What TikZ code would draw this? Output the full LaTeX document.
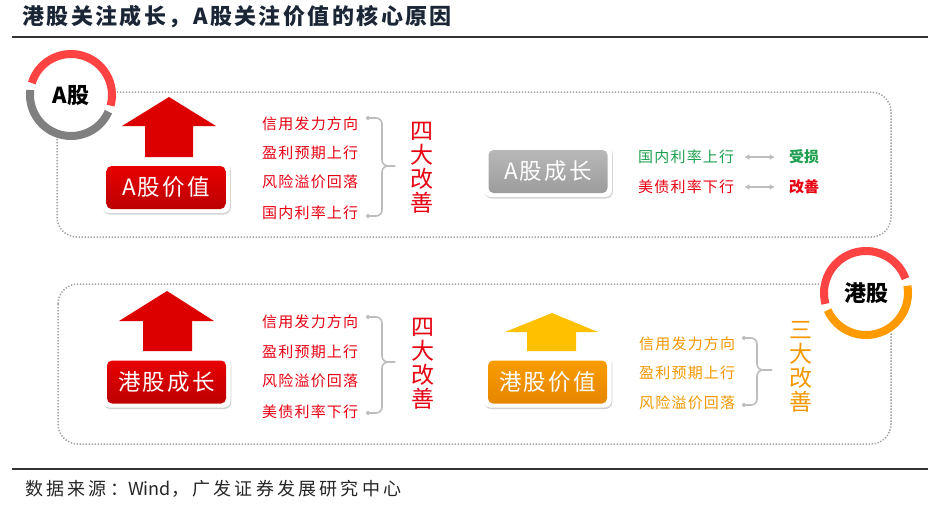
\documentclass[tikz,border=0pt]{standalone}
\usepackage{fontspec}
\setmainfont{Noto Sans CJK SC}
\usetikzlibrary{arrows.meta,shadows,shapes.geometric}
\definecolor{titlecol}{HTML}{1A2535}
\definecolor{rulecol}{HTML}{333333}
\definecolor{panelgray}{HTML}{A0A0A0}
\definecolor{bracegray}{HTML}{BDBDBD}
\definecolor{ringred}{HTML}{FF4242}
\definecolor{ringgray}{HTML}{808080}
\definecolor{ringorange}{HTML}{FF9A00}
\definecolor{arrowred}{HTML}{DD0000}
\definecolor{arrowyellow}{HTML}{FFC000}
\definecolor{txtred}{HTML}{E60012}
\definecolor{txtgreen}{HTML}{1FA050}
\definecolor{txtorange}{HTML}{F39800}
\definecolor{boxredtop}{HTML}{E80000}
\definecolor{boxredbot}{HTML}{BC0000}
\definecolor{boxgraytop}{HTML}{B8B8B8}
\definecolor{boxgraybot}{HTML}{9C9C9C}
\definecolor{boxorangetop}{HTML}{F89C00}
\definecolor{boxorangebot}{HTML}{E68600}
\begin{document}
\begin{tikzpicture}[x=1pt,y=-1pt,
  panel/.style={draw=panelgray, line width=1.5pt, dash pattern=on 1.3pt off 1.7pt, rounded corners=20pt},
  ring/.style={line width=8pt},
  frame/.style={fill=white, rounded corners=7pt, minimum width=128pt, minimum height=51pt, inner sep=0pt,
    drop shadow={opacity=0.35, shadow xshift=0.8pt, shadow yshift=-1.5pt}},
  label/.style={rounded corners=5pt, minimum width=119pt, minimum height=43pt, inner sep=0pt, text=white,
    font=\fontsize{22.5}{22.5}\selectfont\addfontfeature{LetterSpace=10}},
  listitem/.style={anchor=west, inner sep=0pt, font=\fontsize{15}{15}\selectfont\addfontfeature{LetterSpace=8}},
  vtext/.style={inner sep=0pt, align=center, font=\fontsize{23}{24}\selectfont},
  brace/.style={draw=bracegray, line width=1.6pt, rounded corners=6pt},
  braceend/.style={fill=bracegray, inner sep=0pt, minimum size=5pt, diamond},
  dbl/.style={draw=bracegray, line width=1.8pt, {Latex[length=5pt,width=6pt]}-{Latex[length=5pt,width=6pt]}},
]
\useasboundingbox (0,0) rectangle (928,504);
\fill[white] (0,0) rectangle (928,504);

% title and rules
\node[anchor=west, inner sep=0pt, text=titlecol,
  font=\fontsize{22}{22}\selectfont\bfseries\addfontfeature{LetterSpace=11}] (title) at (22,17)
  {港股关注成长，A股关注价值的核心原因};
\draw[line width=2pt, draw=rulecol] (12,37) -- (928,37);
\draw[line width=2pt, draw=rulecol] (12,469) -- (928,469);
\node[anchor=west, inner sep=0pt, text=black!85,
  font=\fontsize{18}{18}\selectfont] (source) at (25,489)
  {{\addfontfeature{LetterSpace=18}数据来源：}Wind{\addfontfeature{LetterSpace=18}，广发证券发展研究中心}};

% panels
\draw[panel] (57,92) rectangle (891,237);
\draw[panel] (58,284) rectangle (891,444);

% A-share ring
\fill[white] (71,95) circle (46);
\draw[ring, ringred] (71,95) ++(15:41) arc[start angle=15, end angle=-163, radius=41];
\draw[ring, ringgray] (71,95) ++(-173:41) arc[start angle=-173, end angle=-336, radius=41];
\node[inner sep=0pt, font=\fontsize{22}{22}\selectfont\bfseries] (aring) at (71,96) {A股};

% HK ring
\fill[white] (866,293) circle (47);
\draw[ring, ringred] (866,293) ++(-20:42) arc[start angle=-20, end angle=-195, radius=42];
\draw[ring, ringorange] (866,293) ++(-204:42) arc[start angle=-204, end angle=-370, radius=42];
\node[inner sep=0pt, font=\fontsize{22}{22}\selectfont\bfseries] (hring) at (866,293) {港股};

% up arrows
\fill[arrowred] (169,97) -- (216,126) -- (193,126) -- (193,157) -- (145,157) -- (145,126) -- (122,126) -- cycle;
\fill[arrowred] (167,291) -- (214,321) -- (192,321) -- (192,351) -- (143,351) -- (143,321) -- (119,321) -- cycle;
\fill[arrowyellow] (552,313) -- (598,332) -- (576,332) -- (576,351) -- (527,351) -- (527,332) -- (505,332) -- cycle;

% boxes
\node[frame] (avalf) at (166,187.5) {};
\node[label, top color=boxredtop, bottom color=boxredbot] (aval) at (166,187.5) {A股价值};
\node[frame] (hgrof) at (166.5,382) {};
\node[label, top color=boxredtop, bottom color=boxredbot] (hgro) at (166.5,382) {港股成长};
\node[frame] (agrof) at (548,171.5) {};
\node[label, top color=boxgraytop, bottom color=boxgraybot] (agro) at (548,171.5) {A股成长};
\node[frame] (hvalf) at (547.5,382) {};
\node[label, top color=boxorangetop, bottom color=boxorangebot] (hval) at (547.5,382) {港股价值};

% upper list
\node[listitem, text=txtred] (u1) at (262,124) {信用发力方向};
\node[listitem, text=txtred] (u2) at (262,153) {盈利预期上行};
\node[listitem, text=txtred] (u3) at (262,182) {风险溢价回落};
\node[listitem, text=txtred] (u4) at (262,213) {国内利率上行};
\coordinate (ub1) at (368,118);
\coordinate (ub2) at (368,216);
\coordinate (ubm) at (395,166);
\draw[brace] (ub1) -- (382,118) -- (382,166) -- (ubm);
\draw[brace] (ub2) -- (382,216) -- (382,166) -- (ubm);
\node[braceend] (ube1) at (ub1) {};
\node[braceend] (ube2) at (ub2) {};
\node[vtext, text=txtred] (u4g) at (422,168) {四\\大\\改\\善};

% upper right
\node[listitem, text=txtgreen] (r1) at (638,157) {国内利率上行};
\node[inner sep=0pt, text=txtgreen, font=\fontsize{15}{15}\selectfont\bfseries] (loss) at (804,157) {受损};
\node[listitem, text=txtred] (r2) at (638,187) {美债利率下行};
\node[inner sep=0pt, text=txtred, font=\fontsize{15}{15}\selectfont\bfseries] (gain) at (804,187) {改善};
\draw[dbl] ([xshift=10pt]r1.east) -- ([xshift=-14pt]loss.west);
\draw[dbl] ([xshift=10pt]r2.east) -- ([xshift=-14pt]gain.west);

% lower list
\node[listitem, text=txtred] (l1) at (262,322) {信用发力方向};
\node[listitem, text=txtred] (l2) at (262,352) {盈利预期上行};
\node[listitem, text=txtred] (l3) at (262,381) {风险溢价回落};
\node[listitem, text=txtred] (l4) at (262,412) {美债利率下行};
\coordinate (lb1) at (368,317);
\coordinate (lb2) at (368,413);
\coordinate (lbm) at (395,362);
\draw[brace] (lb1) -- (382,317) -- (382,362) -- (lbm);
\draw[brace] (lb2) -- (382,413) -- (382,362) -- (lbm);
\node[braceend] (lbe1) at (lb1) {};
\node[braceend] (lbe2) at (lb2) {};
\node[vtext, text=txtred] (l4g) at (423,364) {四\\大\\改\\善};

% lower right list
\node[listitem, text=txtorange] (o1) at (639,344) {信用发力方向};
\node[listitem, text=txtorange] (o2) at (639,373) {盈利预期上行};
\node[listitem, text=txtorange] (o3) at (639,403) {风险溢价回落};
\coordinate (ob1) at (744,338);
\coordinate (ob2) at (744,405);
\coordinate (obm) at (772,370);
\draw[brace] (ob1) -- (757,338) -- (757,370) -- (obm);
\draw[brace] (ob2) -- (757,405) -- (757,370) -- (obm);
\node[braceend] (obe1) at (ob1) {};
\node[braceend] (obe2) at (ob2) {};
\node[vtext, text=txtorange] (o3g) at (801,367) {三\\大\\改\\善};
\end{tikzpicture}
\end{document}
